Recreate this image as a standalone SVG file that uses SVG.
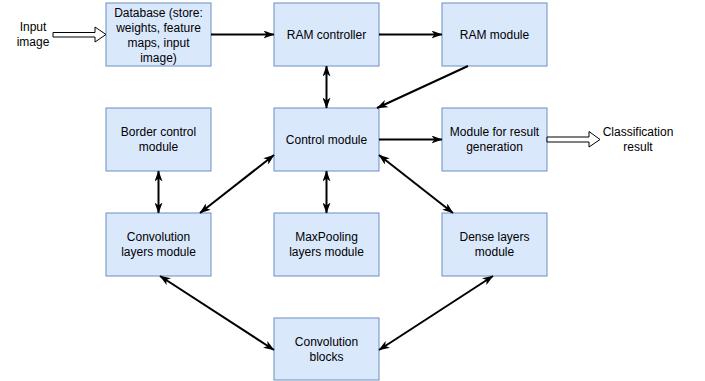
<svg xmlns="http://www.w3.org/2000/svg" width="705" height="381" viewBox="0 0 705 381">
<defs>
<style>
.box{fill:#dae8fc;stroke:#6c8ebf;stroke-width:1}
text{font-family:"Liberation Sans",Arial,sans-serif;font-size:12px;fill:#000;text-anchor:middle}
.c{stroke:#000;stroke-width:2;fill:none}
.hollow{fill:#fff;stroke:#000;stroke-width:1}
</style>
<marker id="a" viewBox="0 0 11 8" refX="10.5" refY="4" markerWidth="11" markerHeight="8" orient="auto-start-reverse" markerUnits="userSpaceOnUse">
<path d="M0,0 L11,4 L0,8 L3,4 Z" fill="#000"/>
</marker>
</defs>
<rect width="705" height="381" fill="#fff"/>
<g id="input-label"><text x="33" y="31">Input</text><text x="33" y="46">image</text></g>
<g id="database"><rect class="box" x="106" y="3" width="105" height="63"/><text x="158.5" y="17">Database (store:</text><text x="158.5" y="32">weights, feature</text><text x="158.5" y="47">maps, input</text><text x="158.5" y="62">image)</text></g>
<g id="ram-controller"><rect class="box" x="274" y="3" width="105" height="63"/><text x="326.5" y="38.5">RAM controller</text></g>
<g id="ram-module"><rect class="box" x="442" y="3" width="105" height="63"/><text x="494.5" y="38.5">RAM module</text></g>
<g id="border-control"><rect class="box" x="106" y="108" width="105" height="63"/><text x="158.5" y="136">Border control</text><text x="158.5" y="151">module</text></g>
<g id="control-module"><rect class="box" x="274" y="108" width="105" height="63"/><text x="326.5" y="143.5">Control module</text></g>
<g id="result-generation"><rect class="box" x="442" y="108" width="105" height="63"/><text x="494.5" y="136">Module for result</text><text x="494.5" y="151">generation</text></g>
<g id="classification-label"><text x="638" y="136">Classification</text><text x="638" y="151">result</text></g>
<g id="conv-layers"><rect class="box" x="106" y="213" width="105" height="63"/><text x="158.5" y="241">Convolution</text><text x="158.5" y="256">layers module</text></g>
<g id="maxpooling"><rect class="box" x="274" y="213" width="105" height="63"/><text x="326.5" y="241">MaxPooling</text><text x="326.5" y="256">layers module</text></g>
<g id="dense"><rect class="box" x="442" y="213" width="105" height="63"/><text x="494.5" y="241">Dense layers</text><text x="494.5" y="256">module</text></g>
<g id="conv-blocks"><rect class="box" x="274" y="318" width="105" height="62"/><text x="326.5" y="345.5">Convolution</text><text x="326.5" y="360.5">blocks</text></g>
<g id="connectors">
<path class="hollow" d="M53,32.5 H95 V27 L106,34.5 L95,42 V37 H53 Z"/>
<path class="hollow" d="M547,137 H589 V131.5 L600,139.5 L589,147 V142 H547 Z"/>
<line class="c" x1="211" y1="34.5" x2="274" y2="34.5" marker-end="url(#a)"/>
<line class="c" x1="379" y1="34.5" x2="442" y2="34.5" marker-end="url(#a)"/>
<line class="c" x1="326.5" y1="66" x2="326.5" y2="108" marker-start="url(#a)" marker-end="url(#a)"/>
<line class="c" x1="468" y1="66" x2="377" y2="108" marker-end="url(#a)"/>
<line class="c" x1="379" y1="139.5" x2="442" y2="139.5" marker-end="url(#a)"/>
<line class="c" x1="158.5" y1="171" x2="158.5" y2="213" marker-start="url(#a)" marker-end="url(#a)"/>
<line class="c" x1="326.5" y1="171" x2="326.5" y2="213" marker-start="url(#a)" marker-end="url(#a)"/>
<line class="c" x1="274" y1="155" x2="200" y2="213" marker-start="url(#a)" marker-end="url(#a)"/>
<line class="c" x1="379" y1="155" x2="453" y2="213" marker-start="url(#a)" marker-end="url(#a)"/>
<line class="c" x1="160" y1="276" x2="274" y2="350" marker-start="url(#a)" marker-end="url(#a)"/>
<line class="c" x1="493" y1="276" x2="379" y2="350" marker-start="url(#a)" marker-end="url(#a)"/>
</g>
</svg>
